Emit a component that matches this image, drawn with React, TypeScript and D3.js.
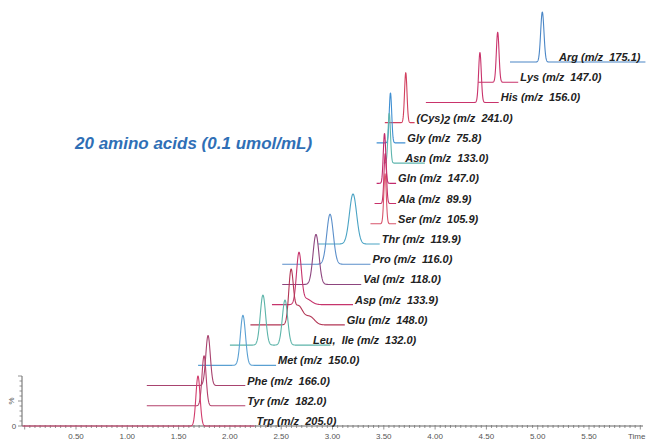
import React from "react";
import * as d3 from "d3";

// Stacked extracted-ion chromatograms, listed from the top trace down.
const compounds = [
  "Arg", "Lys", "His", "(Cys)2", "Gly", "Asn", "Gln", "Ala", "Ser", "Thr",
  "Pro", "Val", "Asp", "Glu", "Leu, Ile", "Met", "Phe", "Tyr", "Trp",
];
const mzValues = [
  175.1, 147.0, 156.0, 241.0, 75.8, 133.0, 147.0, 89.9, 105.9, 119.9,
  116.0, 118.0, 133.9, 148.0, 132.0, 150.0, 166.0, 182.0, 205.0,
];
// Acquisition window of each trace (min)
const windowStart = [
  4.73, 4.42, 3.91, 3.51, 3.43, 3.5, 3.43, 3.41, 3.37, 2.86,
  2.51, 2.51, 2.41, 2.2, 2.0, 1.69, 1.19, 1.19, -0.02,
];
const windowEnd = [
  6.05, 4.81, 4.62, 3.8, 3.71, 3.9, 3.62, 3.62, 3.62, 3.46,
  3.37, 3.28, 3.2, 3.12, 2.98, 2.45, 2.15, 2.15, 2.24,
];
// Peaks in each trace: retention time (min), relative intensity (%), width sigma (min)
const peakTimes = [
  [5.045], [4.61], [4.437], [3.714], [3.565], [3.553], [3.507], [3.514], [3.512], [3.2],
  [2.976], [2.839], [2.673, 2.74], [2.595, 2.665, 2.78], [2.322, 2.537], [2.127], [1.787], [1.748], [1.689],
];
const peakHeights = [
  [100], [100], [100], [100], [100], [100], [100], [100], [100], [100],
  [100], [100], [100, 12], [100, 38, 16], [100, 90], [100], [100], [100], [100],
];
const peakWidths = [
  [0.016], [0.013], [0.013], [0.012], [0.012], [0.012], [0.012], [0.012], [0.012], [0.035],
  [0.032], [0.029], [0.024, 0.05], [0.022, 0.045, 0.045], [0.026, 0.026], [0.025], [0.022], [0.02], [0.02],
];
// Time axis tick labels (min)
const timeTicks = [0.5, 1.0, 1.5, 2.0, 2.5, 3.0, 3.5, 4.0, 4.5, 5.0, 5.5];

const traceColors = [
  "#4a86c6", "#c9336b", "#c9336b", "#d2405f", "#3f8fd2", "#5fb5ae", "#c22a6c", "#c8306a", "#d8546b", "#4aa3c4",
  "#5b8fca", "#8d457e", "#c6346c", "#b23655", "#5cb4a9", "#5aa0d2", "#a8436f", "#b4416c", "#d13c6c",
];

const W = 647;
const H = 442;

const xScale = d3.scaleLinear().domain([0, 6]).range([24.7, 24.7 + 6 * 102.6]);
const yBase = d3.scalePoint<string>().domain(compounds).range([62, 426]);
const yInt = d3.scaleLinear().domain([0, 100]).range([0, 50]);

// label start (min), for traces whose label is not placed right at the window end
const labelAtTime: Record<string, number> = { Asn: 3.69, "Leu, Ile": 2.79 };

function intensity(i: number, t: number) {
  let v = 0;
  peakTimes[i].forEach((rt, k) => {
    const s = peakWidths[i][k];
    v += peakHeights[i][k] * Math.exp(-0.5 * ((t - rt) / s) ** 2);
  });
  return v;
}

function tracePath(i: number) {
  const base = yBase(compounds[i]) as number;
  const ts = d3.range(windowStart[i], windowEnd[i], 0.002).concat([windowEnd[i]]);
  const line = d3
    .line<number>()
    .x((t) => xScale(t))
    .y((t) => base - yInt(intensity(i, t)));
  return line(ts) || "";
}

const labelFont = "'Liberation Sans', Arial, sans-serif";

export default function App() {
  const axisY = yBase("Trp") as number;
  const minor = d3.range(0, 121).map((k) => k * 0.05);
  const yTicks = d3.range(0, 101, 10);
  return (
    <svg
      width={W}
      height={H}
      style={{ position: "absolute", left: 0, top: 0, background: "#fff" }}
      fontFamily={labelFont}
    >
      {/* time axis */}
      <line x1={22} x2={643} y1={axisY} y2={axisY} stroke="#666" strokeWidth={1} />
      {minor.map((t, k) => (
        <line
          key={"m" + k}
          x1={xScale(t)}
          x2={xScale(t)}
          y1={axisY - 1}
          y2={axisY + (k % 10 === 0 ? 3.5 : 2)}
          stroke="#777"
          strokeWidth={0.8}
        />
      ))}
      {timeTicks.map((t) => (
        <text
          key={"t" + t}
          x={xScale(t)}
          y={axisY + 13}
          textAnchor="middle"
          fontSize={8}
          fill="#555"
        >
          {d3.format(".2f")(t)}
        </text>
      ))}
      <text x={628} y={axisY + 13} fontSize={8} fill="#555">
        Time
      </text>

      {/* intensity axis */}
      <line x1={22} x2={22} y1={axisY - yInt(100)} y2={axisY} stroke="#666" strokeWidth={1} />
      {yTicks.map((v) => (
        <line
          key={"y" + v}
          x1={22 - (v % 50 === 0 ? 4 : 2.5)}
          x2={22}
          y1={axisY - yInt(v)}
          y2={axisY - yInt(v)}
          stroke="#777"
          strokeWidth={0.8}
        />
      ))}
      <text x={14} y={axisY + 3} fontSize={8} fill="#555" textAnchor="middle">
        0
      </text>
      <text
        x={0}
        y={0}
        fontSize={8}
        fill="#555"
        textAnchor="middle"
        transform={`translate(14, ${axisY - yInt(50)}) rotate(-90)`}
      >
        %
      </text>

      {/* traces */}
      {compounds.map((c, i) => (
        <path
          key={"p" + c}
          d={tracePath(i)}
          fill="none"
          stroke={traceColors[i]}
          strokeWidth={1.1}
          strokeLinejoin="round"
        />
      ))}

      {/* trace labels */}
      {compounds.map((c, i) => {
        const base = yBase(c) as number;
        const mz = `(m/z  ${mzValues[i].toFixed(1)})`;
        const isLast = i === 0;
        const x = isLast
          ? xScale(windowEnd[i]) - 5
          : xScale(labelAtTime[c] ?? windowEnd[i]) + 2;
        const name = c === "Leu, Ile" ? "Leu,  Ile" : c;
        return (
          <text
            key={"l" + c}
            x={x}
            y={base - 1}
            fontSize={11}
            fontWeight="bold"
            fontStyle="italic"
            fill="#222"
            textAnchor={isLast ? "end" : "start"}
            style={{ whiteSpace: "pre" }}
          >
            {c === "(Cys)2" ? (
              <>
                {"(Cys)"}
                <tspan dy={2}>2</tspan>
                <tspan dy={-2}>{" " + mz}</tspan>
              </>
            ) : (
              name + " " + mz
            )}
          </text>
        );
      })}

      {/* title */}
      <text
        x={75}
        y={149}
        fontSize={17}
        fontWeight="bold"
        fontStyle="italic"
        fill="#2f6fb6"
      >
        20 amino acids (0.1 umol/mL)
      </text>
    </svg>
  );
}
